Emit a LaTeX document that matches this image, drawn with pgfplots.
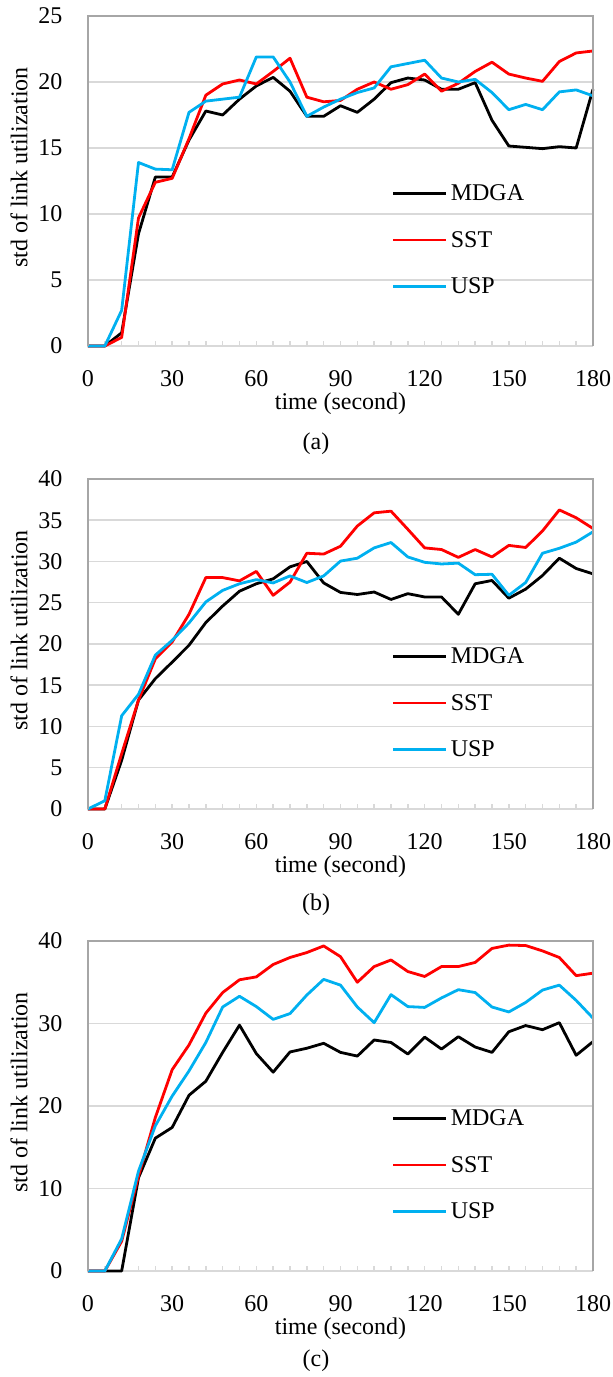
\documentclass[border=0pt]{standalone}
\usepackage{fontspec}
\setmainfont{Liberation Serif}
\usepackage{pgfplots}
\pgfplotsset{compat=1.18}
\definecolor{cusp}{HTML}{00B0F0}
\definecolor{csst}{HTML}{FF0000}
\definecolor{cframe}{HTML}{A6A6A6}
\definecolor{cgrid}{HTML}{D9D9D9}
\newcommand{\bigf}{\fontsize{24}{28}\selectfont}
\pgfplotsset{
  panel/.style={
    scale only axis, width=505pt, height=330pt,
    xmin=0, xmax=180, ymin=0, clip=false,
    xtick={0,30,...,180}, minor xtick={0,6,...,180},
    axis lines=box, axis line style={draw=none},
    tick align=inside, xtick pos=bottom, ytick pos=left,
    major tick length=5pt, minor tick length=5pt,
    xtick style={cgrid, line width=1.5pt},
    minor tick style={cgrid, line width=1.5pt},
    ytick style={draw=none},
    ymajorgrids, grid style={cgrid, line width=1.5pt},
    tick label style={font=\bigf},
    xticklabel shift=21pt,
    yticklabel shift=22pt,
    label style={font=\bigf},
    xlabel={time (second)},
    ylabel={std of link utilization},
    xlabel style={at={(rel axis cs:0.5,-0.1939)}, anchor=base, inner sep=0pt},
    ylabel style={at={(rel axis cs:-0.1366,0.541)}, anchor=center},
    legend style={draw=none, fill=none, inner sep=0pt, outer sep=0pt,
      at={(rel axis cs:0.602,0.321)}, anchor=west, font=\bigf,
      row sep=23pt, nodes={inner sep=3pt}},
    legend cell align=left,
    legend image code/.code={\draw[#1] (0pt,0pt) -- (53pt,0pt);},
    every axis plot/.append style={line width=2.8pt, line join=round, mark=none},
    after end axis/.code={
      \draw[cframe, line width=2pt] (rel axis cs:0,0) -- (rel axis cs:0,1) -- (rel axis cs:1,1) -- (rel axis cs:1,0);
    },
    /pgf/number format/assume math mode=true,
  }
}
\begin{document}
\begin{tikzpicture}
% ---------------- (a)
\begin{axis}[panel, at={(88pt,1031pt)}, anchor=south west, ymax=25, ytick={0,5,...,25}]
\addplot[black] coordinates {(0,0) (6,0) (12,1.0) (18,8.5) (24,12.8) (30,12.8) (36,15.6) (42,17.8) (48,17.5) (54,18.7) (60,19.7) (66,20.35) (72,19.3) (78,17.4) (84,17.4) (90,18.2) (96,17.7) (102,18.7) (108,19.95) (114,20.3) (120,20.15) (126,19.45) (132,19.45) (138,19.95) (144,17.1) (150,15.15) (156,15.05) (162,14.95) (168,15.1) (174,15.0) (180,19.45)};
\addplot[csst] coordinates {(0,0) (6,0) (12,0.65) (18,9.7) (24,12.4) (30,12.7) (36,15.7) (42,19.0) (48,19.85) (54,20.15) (60,19.85) (66,20.8) (72,21.8) (78,18.85) (84,18.5) (90,18.6) (96,19.45) (102,20.0) (108,19.45) (114,19.8) (120,20.6) (126,19.3) (132,19.9) (138,20.8) (144,21.5) (150,20.6) (156,20.3) (162,20.05) (168,21.55) (174,22.2) (180,22.35)};
\addplot[cusp] coordinates {(0,0) (6,0) (12,2.7) (18,13.9) (24,13.4) (30,13.35) (36,17.7) (42,18.55) (48,18.7) (54,18.85) (60,21.9) (66,21.9) (72,20.0) (78,17.4) (84,18.1) (90,18.7) (96,19.2) (102,19.55) (108,21.15) (114,21.4) (120,21.65) (126,20.3) (132,20.0) (138,20.2) (144,19.2) (150,17.9) (156,18.3) (162,17.9) (168,19.25) (174,19.4) (180,18.95)};
\legend{MDGA,SST,USP}
\end{axis}
% ---------------- (b)
\begin{axis}[panel, at={(88pt,568pt)}, anchor=south west, ymax=40, ytick={0,5,...,40}]
\addplot[black] coordinates {(0,0) (6,0) (12,5.9) (18,13.2) (24,15.8) (30,17.8) (36,19.85) (42,22.6) (48,24.6) (54,26.4) (60,27.3) (66,27.9) (72,29.35) (78,30.0) (84,27.4) (90,26.25) (96,26.0) (102,26.3) (108,25.4) (114,26.1) (120,25.7) (126,25.7) (132,23.6) (138,27.3) (144,27.7) (150,25.55) (156,26.65) (162,28.3) (168,30.4) (174,29.15) (180,28.5)};
\addplot[csst] coordinates {(0,0) (6,0) (12,6.7) (18,13.2) (24,18.2) (30,20.25) (36,23.6) (42,28.05) (48,28.05) (54,27.65) (60,28.8) (66,25.9) (72,27.5) (78,31.0) (84,30.9) (90,31.85) (96,34.3) (102,35.9) (108,36.1) (114,33.9) (120,31.65) (126,31.45) (132,30.5) (138,31.45) (144,30.55) (150,31.95) (156,31.7) (162,33.7) (168,36.25) (174,35.3) (180,34.0)};
\addplot[cusp] coordinates {(0,0) (6,1.0) (12,11.3) (18,13.9) (24,18.65) (30,20.45) (36,22.55) (42,25.1) (48,26.5) (54,27.3) (60,27.8) (66,27.4) (72,28.25) (78,27.45) (84,28.25) (90,30.05) (96,30.4) (102,31.65) (108,32.3) (114,30.55) (120,29.9) (126,29.7) (132,29.8) (138,28.4) (144,28.45) (150,25.9) (156,27.45) (162,31.0) (168,31.6) (174,32.35) (180,33.6)};
\legend{MDGA,SST,USP}
\end{axis}
% ---------------- (c)
\begin{axis}[panel, at={(88pt,106pt)}, anchor=south west, ymax=40, ytick={0,10,...,40}]
\addplot[black] coordinates {(0,0) (6,0) (12,0) (18,11.3) (24,16.1) (30,17.4) (36,21.3) (42,23.0) (48,26.5) (54,29.8) (60,26.35) (66,24.1) (72,26.55) (78,27.0) (84,27.6) (90,26.5) (96,26.05) (102,28.0) (108,27.7) (114,26.3) (120,28.35) (126,26.9) (132,28.4) (138,27.15) (144,26.5) (150,29.0) (156,29.75) (162,29.25) (168,30.1) (174,26.15) (180,27.8)};
\addplot[csst] coordinates {(0,0) (6,0) (12,3.6) (18,11.5) (24,18.6) (30,24.4) (36,27.4) (42,31.25) (48,33.75) (54,35.3) (60,35.65) (66,37.15) (72,38.0) (78,38.6) (84,39.4) (90,38.1) (96,35.0) (102,36.9) (108,37.7) (114,36.3) (120,35.7) (126,36.9) (132,36.9) (138,37.4) (144,39.1) (150,39.5) (156,39.45) (162,38.8) (168,38.0) (174,35.8) (180,36.1)};
\addplot[cusp] coordinates {(0,0) (6,0) (12,3.9) (18,12.1) (24,17.6) (30,21.2) (36,24.25) (42,27.7) (48,32.0) (54,33.3) (60,32.05) (66,30.5) (72,31.2) (78,33.45) (84,35.35) (90,34.65) (96,32.0) (102,30.1) (108,33.5) (114,32.05) (120,31.95) (126,33.1) (132,34.1) (138,33.75) (144,32.0) (150,31.4) (156,32.55) (162,34.05) (168,34.65) (174,32.8) (180,30.65)};
\legend{MDGA,SST,USP}
\end{axis}
\node[anchor=base, font=\bigf] at (316pt,927pt) {(a)};
\node[anchor=base, font=\bigf] at (316pt,466pt) {(b)};
\node[anchor=base, font=\bigf] at (316pt,10pt) {(c)};
\pgfresetboundingbox
\useasboundingbox (0,0) rectangle (613pt,1377pt);
\end{tikzpicture}
\end{document}
